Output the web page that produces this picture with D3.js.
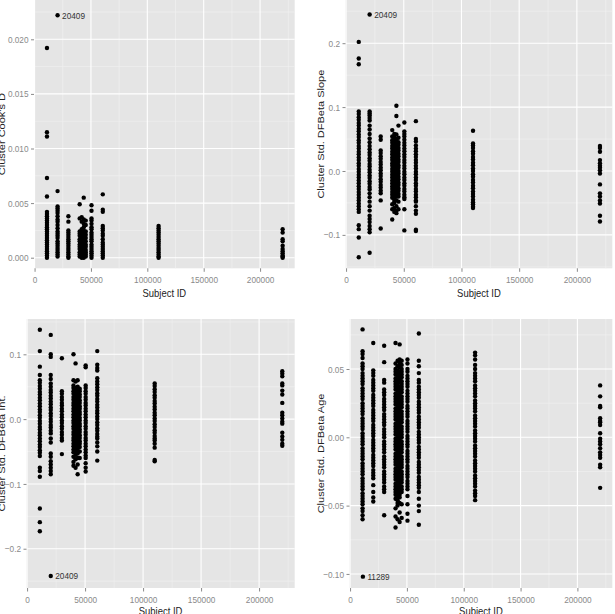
<!DOCTYPE html>
<html><head><meta charset="utf-8">
<script src="https://cdn.jsdelivr.net/npm/d3@7"></script>
<style>
body{margin:0;background:#fff}
svg{display:block}
text{font-family:"Liberation Sans",Arial,sans-serif}
</style>
</head><body>
<svg id="chart" width="615" height="614"></svg>
<script>
// ---------- data ----------
const columnIds = [11000, 20409, 30000, 40000, 41800, 43600, 45400, 50500, 60500, 110000, 220000];
const xTicks = [0, 50000, 100000, 150000, 200000];
const xTitle = "Subject ID";

const cookTicks = [0, 0.005, 0.010, 0.015, 0.020];
const cookLabel = [20409, 0.0222, "20409"];
const cooksD = [
  [0.0192, 0.0115, 0.0111, 0.0073, 0.0056, 0.0042, 0.0040, 0.0038, 0.0036, 0.0034, 0.0032, 0.0030, 0.0028, 0.0026, 0.0024, 0.0022, 0.0020, 0.0018, 0.0016, 0.0014, 0.0012, 0.0010, 0.0008, 0.0006, 0.0004, 0.0002, 0.0000],
  [0.0061, 0.0047, 0.0045, 0.0043, 0.0041, 0.0038, 0.0035, 0.0033, 0.0030, 0.0027, 0.0024, 0.0022, 0.0020, 0.0018, 0.0015, 0.0013, 0.0011, 0.0009, 0.0007, 0.0005, 0.0003, 0.0001],
  [0.0038, 0.0033, 0.0025, 0.0023, 0.0021, 0.0019, 0.0017, 0.0015, 0.0013, 0.0011, 0.0009, 0.0007, 0.0005, 0.0003, 0.0001, 0.0000],
  [0.0049, 0.0036, 0.0024, 0.0022, 0.0020, 0.0017, 0.0015, 0.0012, 0.0010, 0.0008, 0.0005, 0.0003, 0.0001],
  [0.0037, 0.0033, 0.0026, 0.0023, 0.0021, 0.0018, 0.0016, 0.0013, 0.0011, 0.0009, 0.0006, 0.0004, 0.0002, 0.0000],
  [0.0055, 0.0035, 0.0031, 0.0028, 0.0025, 0.0022, 0.0019, 0.0017, 0.0014, 0.0012, 0.0009, 0.0007, 0.0004, 0.0002, 0.0000],
  [0.0034, 0.0030, 0.0024, 0.0021, 0.0018, 0.0015, 0.0012, 0.0010, 0.0007, 0.0005, 0.0003, 0.0001],
  [0.0048, 0.0043, 0.0036, 0.0034, 0.0031, 0.0028, 0.0026, 0.0023, 0.0021, 0.0019, 0.0017, 0.0015, 0.0012, 0.0010, 0.0008, 0.0006, 0.0004, 0.0002, 0.0000],
  [0.0058, 0.0044, 0.0042, 0.0029, 0.0027, 0.0025, 0.0022, 0.0020, 0.0017, 0.0014, 0.0012, 0.0010, 0.0008, 0.0006, 0.0004, 0.0002, 0.0000],
  [0.0029, 0.0027, 0.0025, 0.0023, 0.0021, 0.0019, 0.0017, 0.0015, 0.0013, 0.0011, 0.0009, 0.0007, 0.0005, 0.0003, 0.0001, 0.0000],
  [0.0026, 0.0023, 0.0017, 0.0015, 0.0011, 0.0008, 0.0006, 0.0004, 0.0002, 0.0001, 0.0000]
];

const slopeTicks = [-0.1, 0.0, 0.1, 0.2];
const slopeLabel = [20409, 0.245, "20409"];
const dfbetaSlope = [
  [0.202, 0.176, 0.167, 0.093, 0.089, 0.084, 0.080, 0.075, 0.071, 0.066, 0.062, 0.057, 0.053, 0.048, 0.044, 0.039, 0.035, 0.030, 0.026, 0.021, 0.017, 0.012, 0.008, 0.003, -0.001, -0.006, -0.010, -0.015, -0.019, -0.024, -0.028, -0.033, -0.037, -0.042, -0.046, -0.051, -0.055, -0.060, -0.064, -0.085, -0.091, -0.104, -0.135],
  [0.093, 0.090, 0.087, 0.083, 0.079, 0.071, 0.065, 0.058, 0.051, 0.045, 0.039, 0.034, 0.029, 0.025, 0.020, 0.016, 0.011, 0.007, 0.002, -0.002, -0.007, -0.011, -0.016, -0.020, -0.025, -0.029, -0.035, -0.041, -0.048, -0.055, -0.062, -0.070, -0.075, -0.080, -0.086, -0.091, -0.096, -0.128],
  [0.054, 0.049, 0.032, 0.028, 0.023, 0.019, 0.014, 0.010, 0.005, 0.001, -0.004, -0.008, -0.013, -0.017, -0.022, -0.026, -0.031, -0.035, -0.046, -0.090],
  [0.064, 0.054, 0.048, 0.044, 0.039, 0.035, 0.030, 0.026, 0.021, 0.017, 0.012, 0.008, 0.003, -0.001, -0.006, -0.010, -0.015, -0.019, -0.024, -0.028, -0.033, -0.037, -0.042, -0.052, -0.060, -0.076],
  [0.058, 0.052, 0.047, 0.043, 0.038, 0.034, 0.029, 0.025, 0.020, 0.016, 0.011, 0.007, 0.002, -0.002, -0.007, -0.011, -0.016, -0.020, -0.025, -0.029, -0.034, -0.038, -0.043, -0.047, -0.050, -0.058, -0.064],
  [0.102, 0.086, 0.057, 0.050, 0.046, 0.041, 0.037, 0.032, 0.028, 0.023, 0.019, 0.014, 0.010, 0.005, 0.001, -0.004, -0.008, -0.013, -0.017, -0.022, -0.026, -0.031, -0.035, -0.040, -0.046, -0.055, -0.062, -0.066],
  [0.071, 0.052, 0.045, 0.041, 0.036, 0.032, 0.027, 0.023, 0.018, 0.014, 0.009, 0.005, 0.000, -0.004, -0.009, -0.013, -0.018, -0.022, -0.027, -0.031, -0.036, -0.040, -0.048, -0.060],
  [0.076, 0.062, 0.058, 0.054, 0.049, 0.044, 0.040, 0.035, 0.031, 0.026, 0.022, 0.017, 0.013, 0.008, 0.004, -0.001, -0.005, -0.010, -0.014, -0.019, -0.023, -0.028, -0.032, -0.037, -0.041, -0.044, -0.060, -0.093],
  [0.078, 0.050, 0.046, 0.040, 0.035, 0.031, 0.026, 0.022, 0.017, 0.013, 0.008, 0.004, -0.001, -0.005, -0.010, -0.014, -0.019, -0.023, -0.028, -0.032, -0.037, -0.041, -0.046, -0.048, -0.055, -0.062, -0.067, -0.092, -0.094],
  [0.063, 0.043, 0.040, 0.036, 0.031, 0.027, 0.022, 0.018, 0.013, 0.009, 0.004, 0.000, -0.005, -0.009, -0.014, -0.018, -0.023, -0.027, -0.032, -0.036, -0.040, -0.045, -0.049, -0.052, -0.056, -0.058],
  [0.039, 0.036, 0.030, 0.017, 0.012, 0.008, 0.005, 0.001, -0.004, -0.021, -0.035, -0.040, -0.046, -0.051, -0.070, -0.079]
];

const intTicks = [-0.2, -0.1, 0.0, 0.1];
const intLabel = [20409, -0.242, "20409"];
const dfbetaInt = [
  [0.138, 0.105, 0.081, 0.068, 0.060, 0.056, 0.051, 0.047, 0.042, 0.038, 0.033, 0.029, 0.024, 0.020, 0.015, 0.011, 0.006, 0.002, -0.003, -0.007, -0.012, -0.016, -0.021, -0.025, -0.030, -0.034, -0.039, -0.043, -0.048, -0.052, -0.057, -0.075, -0.080, -0.089, -0.138, -0.159, -0.173],
  [0.130, 0.100, 0.096, 0.068, 0.062, 0.055, 0.050, 0.045, 0.041, 0.036, 0.032, 0.027, 0.023, 0.018, 0.014, 0.009, 0.005, 0.000, -0.004, -0.009, -0.013, -0.018, -0.022, -0.030, -0.036, -0.053, -0.058, -0.065, -0.070, -0.075, -0.080, -0.085],
  [0.094, 0.043, 0.039, 0.034, 0.030, 0.025, 0.021, 0.016, 0.012, 0.007, 0.003, -0.002, -0.006, -0.011, -0.015, -0.020, -0.024, -0.029, -0.033, -0.054],
  [0.100, 0.060, 0.052, 0.048, 0.043, 0.039, 0.034, 0.030, 0.025, 0.021, 0.016, 0.012, 0.007, 0.003, -0.002, -0.006, -0.011, -0.015, -0.020, -0.024, -0.029, -0.033, -0.038, -0.042, -0.047, -0.051, -0.058, -0.066, -0.072],
  [0.086, 0.058, 0.048, 0.044, 0.039, 0.035, 0.030, 0.026, 0.021, 0.017, 0.012, 0.008, 0.003, -0.001, -0.006, -0.010, -0.015, -0.019, -0.024, -0.028, -0.033, -0.037, -0.042, -0.046, -0.051, -0.055, -0.062, -0.075],
  [0.060, 0.050, 0.046, 0.041, 0.037, 0.032, 0.028, 0.023, 0.019, 0.014, 0.010, 0.005, 0.001, -0.004, -0.008, -0.013, -0.017, -0.022, -0.026, -0.031, -0.035, -0.040, -0.044, -0.049, -0.053, -0.060, -0.070, -0.085],
  [0.047, 0.043, 0.038, 0.034, 0.029, 0.025, 0.020, 0.016, 0.011, 0.007, 0.002, -0.002, -0.007, -0.011, -0.016, -0.020, -0.025, -0.029, -0.034, -0.038, -0.043, -0.050, -0.060],
  [0.083, 0.080, 0.052, 0.048, 0.043, 0.039, 0.034, 0.030, 0.025, 0.021, 0.016, 0.012, 0.007, 0.003, -0.002, -0.006, -0.011, -0.015, -0.020, -0.024, -0.029, -0.033, -0.038, -0.042, -0.047, -0.051, -0.056, -0.060, -0.068, -0.075, -0.081],
  [0.105, 0.084, 0.079, 0.075, 0.063, 0.058, 0.054, 0.049, 0.045, 0.040, 0.036, 0.031, 0.027, 0.022, 0.018, 0.013, 0.009, 0.004, 0.000, -0.005, -0.009, -0.014, -0.018, -0.023, -0.027, -0.030, -0.036, -0.042, -0.050, -0.064],
  [0.055, 0.051, 0.046, 0.042, 0.037, 0.033, 0.028, 0.024, 0.019, 0.015, 0.010, 0.006, 0.001, -0.003, -0.008, -0.012, -0.017, -0.021, -0.026, -0.030, -0.033, -0.038, -0.044, -0.063, -0.065],
  [0.074, 0.070, 0.066, 0.055, 0.052, 0.044, 0.038, 0.025, 0.010, 0.006, 0.001, -0.004, -0.007, -0.021, -0.027, -0.032, -0.038, -0.041]
];

const ageTicks = [-0.10, -0.05, 0.00, 0.05];
const ageLabel = [11289, -0.102, "11289"];
const dfbetaAge = [
  [0.079, 0.063, 0.061, 0.058, 0.054, 0.052, 0.050, 0.047, 0.045, 0.043, 0.041, 0.039, 0.036, 0.034, 0.032, 0.030, 0.028, 0.025, 0.023, 0.021, 0.019, 0.017, 0.014, 0.012, 0.010, 0.008, 0.006, 0.003, 0.001, -0.001, -0.003, -0.005, -0.008, -0.010, -0.012, -0.014, -0.016, -0.019, -0.021, -0.023, -0.025, -0.027, -0.030, -0.032, -0.034, -0.036, -0.038, -0.041, -0.043, -0.045, -0.047, -0.049, -0.052, -0.054, -0.057, -0.060],
  [0.069, 0.049, 0.047, 0.045, 0.042, 0.040, 0.038, 0.036, 0.034, 0.031, 0.029, 0.027, 0.025, 0.023, 0.020, 0.018, 0.016, 0.014, 0.012, 0.009, 0.007, 0.005, 0.003, 0.001, -0.002, -0.004, -0.006, -0.008, -0.010, -0.013, -0.015, -0.017, -0.019, -0.021, -0.024, -0.026, -0.028, -0.030, -0.035, -0.040, -0.044, -0.047],
  [0.067, 0.055, 0.042, 0.040, 0.035, 0.033, 0.031, 0.028, 0.026, 0.024, 0.022, 0.020, 0.017, 0.015, 0.013, 0.011, 0.009, 0.006, 0.004, 0.002, 0.000, -0.003, -0.005, -0.007, -0.009, -0.011, -0.014, -0.016, -0.018, -0.020, -0.022, -0.025, -0.027, -0.029, -0.031, -0.033, -0.036, -0.038, -0.040, -0.057],
  [0.069, 0.054, 0.050, 0.048, 0.046, 0.043, 0.041, 0.039, 0.037, 0.035, 0.032, 0.030, 0.028, 0.026, 0.024, 0.021, 0.019, 0.017, 0.015, 0.013, 0.010, 0.008, 0.006, 0.004, 0.002, -0.001, -0.003, -0.005, -0.007, -0.009, -0.012, -0.014, -0.016, -0.018, -0.020, -0.023, -0.025, -0.027, -0.029, -0.031, -0.034, -0.036, -0.038, -0.040, -0.042, -0.045, -0.052, -0.058, -0.066],
  [0.056, 0.052, 0.049, 0.047, 0.045, 0.042, 0.040, 0.038, 0.036, 0.034, 0.031, 0.029, 0.027, 0.025, 0.023, 0.020, 0.018, 0.016, 0.014, 0.012, 0.009, 0.007, 0.005, 0.003, 0.001, -0.002, -0.004, -0.006, -0.008, -0.010, -0.013, -0.015, -0.017, -0.019, -0.021, -0.024, -0.026, -0.028, -0.030, -0.032, -0.035, -0.037, -0.039, -0.041, -0.043, -0.046, -0.048, -0.050, -0.060],
  [0.068, 0.057, 0.055, 0.053, 0.051, 0.048, 0.046, 0.044, 0.042, 0.040, 0.037, 0.035, 0.033, 0.031, 0.029, 0.026, 0.024, 0.022, 0.020, 0.018, 0.015, 0.013, 0.011, 0.009, 0.007, 0.004, 0.002, 0.000, -0.002, -0.004, -0.007, -0.009, -0.011, -0.013, -0.015, -0.018, -0.020, -0.022, -0.024, -0.026, -0.029, -0.031, -0.033, -0.035, -0.037, -0.040, -0.042, -0.044, -0.048, -0.055, -0.062],
  [0.056, 0.053, 0.050, 0.048, 0.046, 0.044, 0.041, 0.039, 0.037, 0.035, 0.033, 0.030, 0.028, 0.026, 0.024, 0.022, 0.019, 0.017, 0.015, 0.013, 0.011, 0.008, 0.006, 0.004, 0.002, 0.000, -0.003, -0.005, -0.007, -0.009, -0.011, -0.014, -0.016, -0.018, -0.020, -0.022, -0.025, -0.027, -0.029, -0.031, -0.033, -0.036, -0.038, -0.040, -0.049, -0.059],
  [0.057, 0.054, 0.050, 0.048, 0.045, 0.043, 0.041, 0.039, 0.037, 0.034, 0.032, 0.030, 0.028, 0.026, 0.023, 0.021, 0.019, 0.017, 0.015, 0.012, 0.010, 0.008, 0.006, 0.004, 0.001, -0.001, -0.003, -0.005, -0.007, -0.010, -0.012, -0.014, -0.016, -0.018, -0.021, -0.023, -0.025, -0.027, -0.029, -0.032, -0.034, -0.036, -0.038, -0.043, -0.049, -0.056, -0.061],
  [0.076, 0.056, 0.052, 0.047, 0.042, 0.040, 0.037, 0.035, 0.033, 0.031, 0.029, 0.026, 0.024, 0.022, 0.020, 0.018, 0.015, 0.013, 0.011, 0.009, 0.007, 0.004, 0.002, 0.000, -0.002, -0.004, -0.007, -0.009, -0.011, -0.013, -0.015, -0.018, -0.020, -0.022, -0.024, -0.026, -0.029, -0.031, -0.033, -0.035, -0.037, -0.040, -0.045, -0.050, -0.054, -0.064],
  [0.062, 0.060, 0.057, 0.053, 0.050, 0.047, 0.045, 0.043, 0.041, 0.038, 0.036, 0.034, 0.032, 0.030, 0.027, 0.025, 0.023, 0.021, 0.019, 0.016, 0.014, 0.012, 0.010, 0.008, 0.005, 0.003, 0.001, -0.001, -0.003, -0.006, -0.008, -0.010, -0.012, -0.014, -0.017, -0.019, -0.021, -0.023, -0.025, -0.028, -0.030, -0.032, -0.034, -0.036, -0.039, -0.041, -0.043, -0.046],
  [0.038, 0.030, 0.023, 0.022, 0.014, 0.012, 0.011, 0.009, 0.003, -0.001, -0.003, -0.005, -0.008, -0.011, -0.013, -0.015, -0.020, -0.022, -0.037]
];

// ---------- layout ----------
const panels = [
  {values: cooksD, label: cookLabel, ticks: cookTicks, fmt: d3.format(".3f"), title: "Cluster Cook's D",
   yDomain: [-0.00097, 0.0236], px: [34, 294.7], py: [268.3, 0], titleX: 5, xTitleY: 292.7},
  {values: dfbetaSlope, label: slopeLabel, ticks: slopeTicks, fmt: d3.format(".1f"), title: "Cluster Std. DFBeta Slope",
   yDomain: [-0.1523, 0.2676], px: [345.5, 612.3], py: [268.3, 0], titleX: 324.3, xTitleY: 292.7},
  {values: dfbetaInt, label: intLabel, ticks: intTicks, fmt: d3.format(".1f"), title: "Cluster Std. DFBeta Int.",
   yDomain: [-0.2606, 0.1545], px: [26.5, 294.7], py: [588, 319], titleX: 5, xTitleY: 611},
  {values: dfbetaAge, label: ageLabel, ticks: ageTicks, fmt: d3.format(".2f"), title: "Cluster Std. DFBeta Age",
   yDomain: [-0.1103, 0.0866], px: [349.5, 612.3], py: [588, 319], titleX: 324.3, xTitleY: 611}
];
const xDomain = [-500, 230700];
const SQ = 0.86;           // horizontal squeeze of the original raster
const tickFont = 9.6, titleFont = 11;
const tickCol = "#8a8a8a";

const svg = d3.select("#chart");
svg.append("rect").attr("width", 615).attr("height", 614).attr("fill", "#fff");

panels.forEach(p => {
  const x = d3.scaleLinear().domain(xDomain).range(p.px);
  const y = d3.scaleLinear().domain(p.yDomain).range(p.py);
  const g = svg.append("g");
  const top = Math.min(...p.py), bottom = Math.max(...p.py);

  g.append("rect").attr("x", p.px[0]).attr("y", top)
    .attr("width", p.px[1] - p.px[0]).attr("height", bottom - top).attr("fill", "#e5e5e5");

  // minor grid
  const ystep = p.ticks[1] - p.ticks[0];
  const yMinor = [p.ticks[0] - ystep / 2, ...p.ticks.map(t => t + ystep / 2)]
    .filter(v => v > p.yDomain[0] && v < p.yDomain[1]);
  const xstep = xTicks[1] - xTicks[0];
  const xMinor = xTicks.map(t => t + xstep / 2).filter(v => v < xDomain[1]);
  g.selectAll(".ymin").data(yMinor).join("line")
    .attr("x1", p.px[0]).attr("x2", p.px[1]).attr("y1", d => y(d)).attr("y2", d => y(d))
    .attr("stroke", "#f2f2f2").attr("stroke-width", 0.6);
  g.selectAll(".xmin").data(xMinor).join("line")
    .attr("y1", top).attr("y2", bottom).attr("x1", d => x(d)).attr("x2", d => x(d))
    .attr("stroke", "#f2f2f2").attr("stroke-width", 0.6);
  // major grid
  g.selectAll(".ymaj").data(p.ticks).join("line")
    .attr("x1", p.px[0]).attr("x2", p.px[1]).attr("y1", d => y(d)).attr("y2", d => y(d))
    .attr("stroke", "#fff").attr("stroke-width", 1.1);
  g.selectAll(".xmaj").data(xTicks).join("line")
    .attr("y1", top).attr("y2", bottom).attr("x1", d => x(d)).attr("x2", d => x(d))
    .attr("stroke", "#fff").attr("stroke-width", 1.1);

  // axes
  const ya = g.append("g").attr("transform", `translate(${p.px[0]},0)`)
    .call(d3.axisLeft(y).tickValues(p.ticks).tickFormat(p.fmt).tickSize(3).tickPadding(2.5));
  const xa = g.append("g").attr("transform", `translate(0,${bottom})`)
    .call(d3.axisBottom(x).tickValues(xTicks).tickFormat(d3.format("d")).tickSize(3.5).tickPadding(4.5));
  [ya, xa].forEach(a => {
    a.select(".domain").remove();
    a.selectAll(".tick line").attr("stroke", tickCol);
    a.selectAll(".tick text").attr("fill", tickCol).attr("font-size", tickFont)
      .style("font-family", '"Liberation Sans", Arial, sans-serif');
  });
  ya.selectAll(".tick text").attr("x", -5.5 / SQ).attr("transform", `scale(${SQ},1)`);
  xa.selectAll(".tick text").attr("transform", `scale(${SQ},1)`);

  // points
  const pts = [];
  p.values.forEach((col, i) => col.forEach(v => pts.push([columnIds[i], v])));
  pts.push([p.label[0], p.label[1]]);
  g.selectAll(".pt").data(pts).join("circle")
    .attr("cx", d => x(d[0])).attr("cy", d => y(d[1])).attr("r", 2.2).attr("fill", "#000");

  // label
  g.append("text")
    .attr("transform", `translate(${x(p.label[0]) + 4.5},${y(p.label[1])}) scale(${SQ},1)`)
    .attr("dy", "0.35em").attr("font-size", tickFont).attr("fill", "#333").text(p.label[2]);

  // titles
  g.append("text")
    .attr("transform", `translate(${(p.px[0] + p.px[1]) / 2},${p.xTitleY}) scale(${SQ},1)`)
    .attr("text-anchor", "middle").attr("dy", "0.35em")
    .attr("font-size", titleFont).attr("fill", "#222").text(xTitle);
  g.append("text")
    .attr("transform", `translate(${p.titleX},${(top + bottom) / 2}) scale(${SQ},1) rotate(-90)`)
    .attr("text-anchor", "middle")
    .attr("font-size", titleFont).attr("fill", "#222").text(p.title);
});
</script>
</body></html>
